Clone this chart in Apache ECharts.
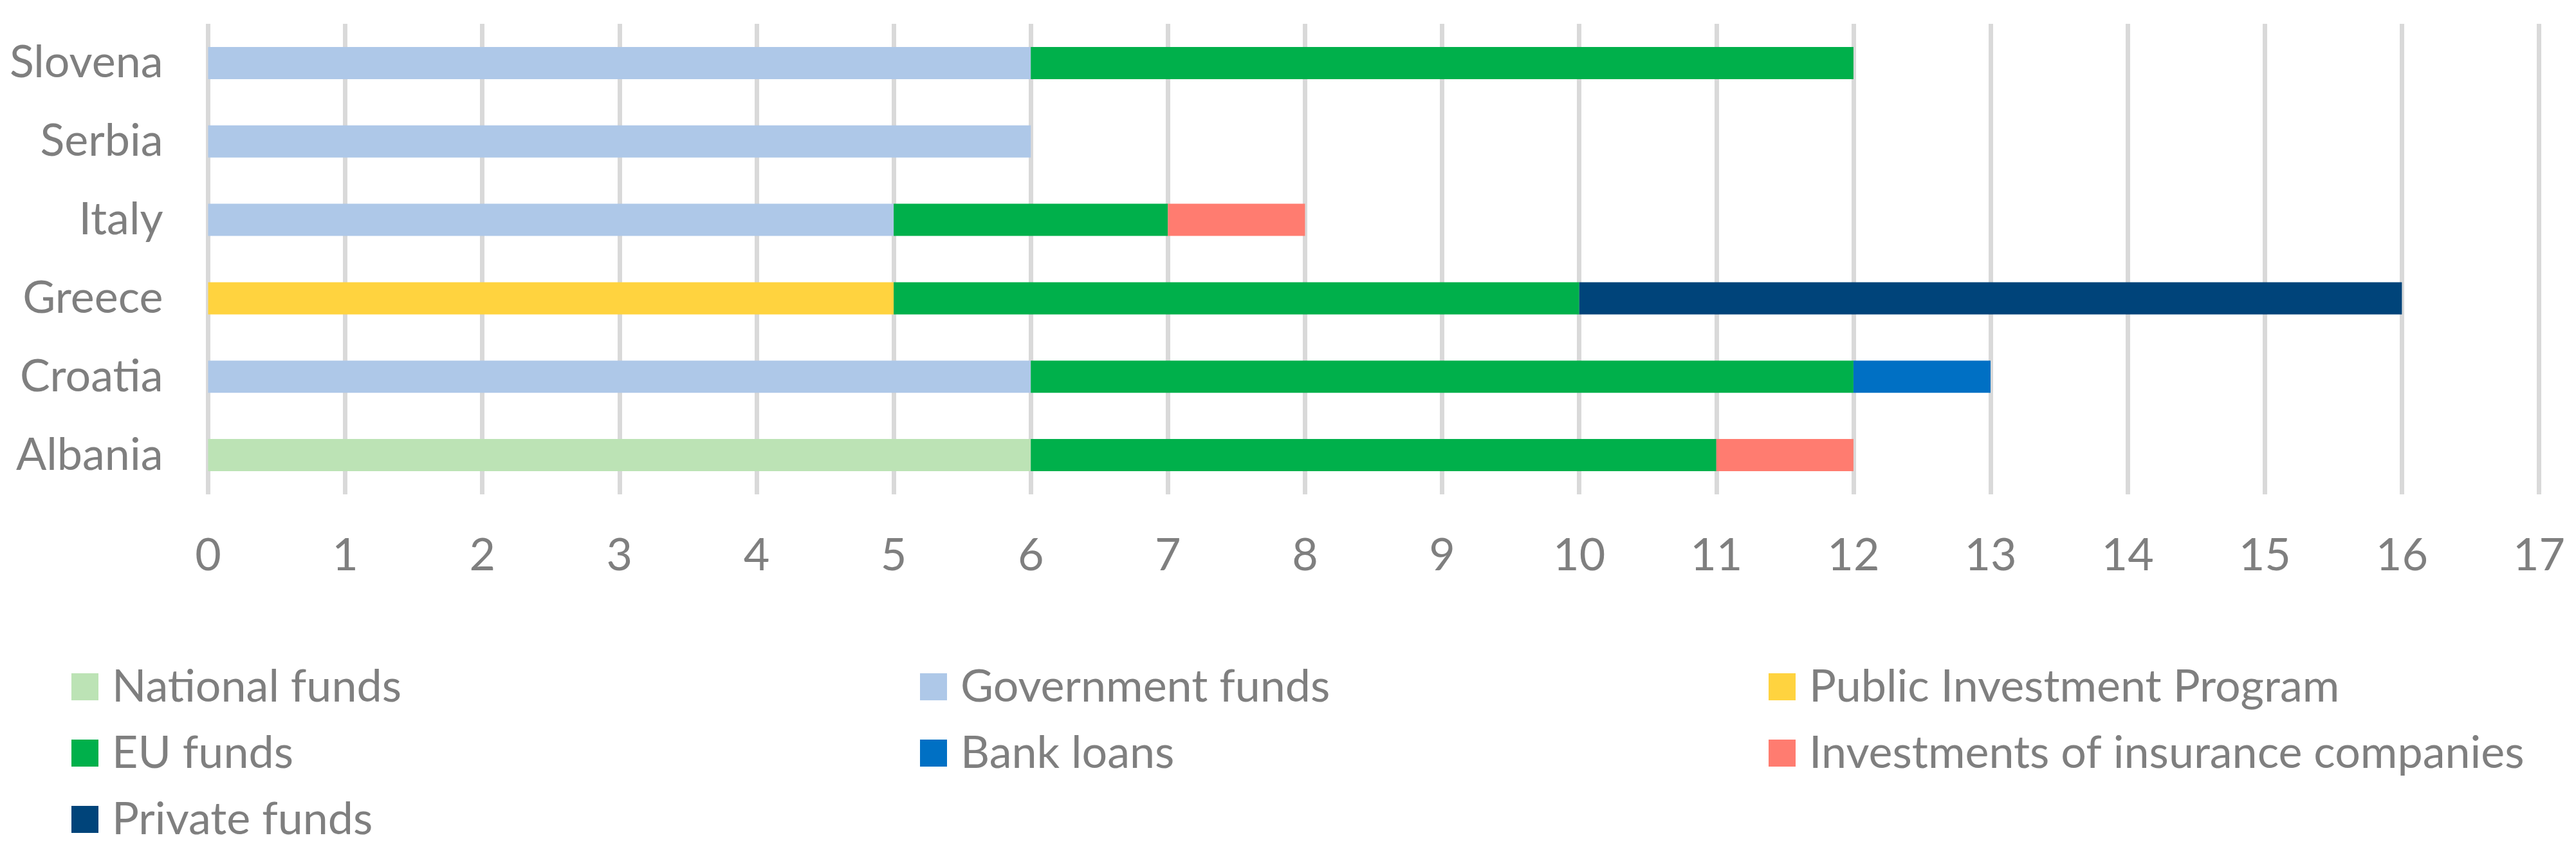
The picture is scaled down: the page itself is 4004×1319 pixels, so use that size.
<!DOCTYPE html>
<html>
<head>
<meta charset="utf-8">
<title>Funding sources by country</title>
<script src="https://cdn.jsdelivr.net/npm/echarts@6/dist/echarts.min.js"></script>
<style>
  html, body { margin: 0; padding: 0; background: #fff; }
  #chart { width: 4004px; height: 1319px; }
</style>
</head>
<body>
<div id="chart"></div>
<script>
// categories, bottom to top as on the y axis
const countries = ['Albania', 'Croatia', 'Greece', 'Italy', 'Serbia', 'Slovena']

// one array per funding source, aligned with countries (null = not used)
const nationalFunds   = [6, null, null, null, null, null]
const governmentFunds = [null, 6, null, 5, 6, 6]
const publicInvestProg = [null, null, 5, null, null, null]
const euFunds         = [5, 6, 5, 2, null, 6]
const bankLoans       = [null, 1, null, null, null, null]
const insuranceInvest = [1, null, null, 1, null, null]
const privateFunds    = [null, null, 6, null, null, null]

const xTicks = { min: 0, max: 17, interval: 1 }

const font = "Lato, 'Open Sans', sans-serif"
const fontSize = 70
const grey = '#7f7f7f'

const sources = [
  { name: 'National funds', data: nationalFunds, color: '#bce3b5' },
  { name: 'Government funds', data: governmentFunds, color: '#aec8e8' },
  { name: 'Public Investment Program', data: publicInvestProg, color: '#ffd33f' },
  { name: 'EU funds', data: euFunds, color: '#00b04b' },
  { name: 'Bank loans', data: bankLoans, color: '#0070c4' },
  { name: 'Investments of insurance companies', data: insuranceInvest, color: '#ff7c70' },
  { name: 'Private funds', data: privateFunds, color: '#00447a' }
]

const chart = echarts.init(document.getElementById('chart'))

// legend laid out as a 3 column grid: one vertical legend per column
const legendCols = [
  ['National funds', 'EU funds', 'Private funds'],
  ['Government funds', 'Bank loans'],
  ['Public Investment Program', 'Investments of insurance companies']
]
const colLeft = [111, 1430, 2749]

const legends = legendCols.map((names, i) => ({
  orient: 'vertical',
  left: colLeft[i],
  top: 1031,
  padding: 0,
  itemWidth: 42,
  itemHeight: 42,
  itemGap: 31,
  icon: 'rect',
  selectedMode: false,
  data: names,
  textStyle: {
    color: grey,
    fontFamily: font,
    fontSize: fontSize,
    lineHeight: 72,
    padding: [0, 0, 0, 16]
  }
}))

chart.setOption({
  animation: false,
  backgroundColor: '#fff',
  legend: legends,
  grid: { left: 323.5, right: 57.5, top: 37, bottom: 551, containLabel: false },
  xAxis: {
    type: 'value',
    min: xTicks.min,
    max: xTicks.max,
    interval: xTicks.interval,
    axisLine: { show: false },
    axisTick: { show: false },
    axisLabel: { color: grey, fontFamily: font, fontSize: fontSize, margin: 60 },
    splitLine: { show: true, lineStyle: { color: '#d9d9d9', width: 7 } }
  },
  yAxis: {
    type: 'category',
    data: countries,
    axisLine: { show: false },
    axisTick: { show: false },
    axisLabel: { color: grey, fontFamily: font, fontSize: fontSize, margin: 70 }
  },
  series: sources.map(s => ({
    name: s.name,
    type: 'bar',
    stack: 'total',
    barWidth: 50,
    data: s.data,
    itemStyle: { color: s.color }
  }))
})
</script>
</body>
</html>
